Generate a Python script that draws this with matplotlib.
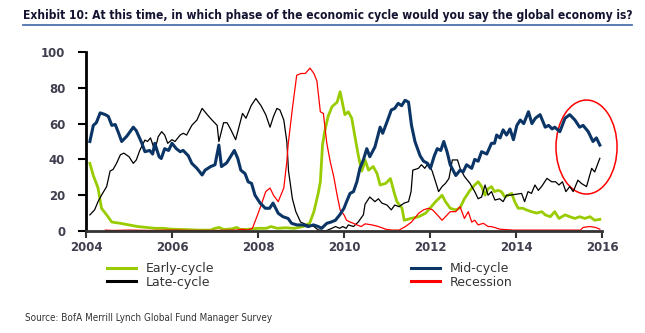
import matplotlib
matplotlib.use("Agg")
import matplotlib.pyplot as plt
from matplotlib.patches import Ellipse
from matplotlib.lines import Line2D

# survey shares (%)
mid_years = [2004.09, 2004.17, 2004.24, 2004.33, 2004.45, 2004.52, 2004.6, 2004.68, 2004.76, 2004.83,
             2004.95, 2005.1, 2005.17, 2005.3, 2005.37, 2005.48, 2005.55, 2005.6, 2005.7, 2005.75,
             2005.83, 2005.92, 2006.0, 2006.1, 2006.19, 2006.26, 2006.38, 2006.46, 2006.58, 2006.7,
             2006.77, 2006.9, 2007.0, 2007.09, 2007.15, 2007.27, 2007.4, 2007.45, 2007.53, 2007.6,
             2007.7, 2007.77, 2007.85, 2007.93, 2008.05, 2008.17, 2008.27, 2008.35, 2008.47, 2008.58,
             2008.7, 2008.78, 2008.9, 2009.05, 2009.17, 2009.29, 2009.4, 2009.48, 2009.6, 2009.7,
             2009.8, 2009.9, 2010.0, 2010.06, 2010.14, 2010.22, 2010.3, 2010.37, 2010.45, 2010.53,
             2010.6, 2010.72, 2010.84, 2010.9, 2011.0, 2011.1, 2011.18, 2011.26, 2011.34, 2011.42,
             2011.5, 2011.57, 2011.65, 2011.77, 2011.85, 2011.93, 2012.01, 2012.1, 2012.17, 2012.25,
             2012.32, 2012.4, 2012.47, 2012.6, 2012.7, 2012.77, 2012.85, 2012.97, 2013.04, 2013.12,
             2013.2, 2013.32, 2013.43, 2013.5, 2013.55, 2013.63, 2013.7, 2013.78, 2013.86, 2013.94,
             2014.02, 2014.1, 2014.18, 2014.29, 2014.37, 2014.45, 2014.56, 2014.68, 2014.76, 2014.84,
             2014.9, 2015.02, 2015.14, 2015.25, 2015.37, 2015.48, 2015.56, 2015.68, 2015.79, 2015.87,
             2015.95]
mid_vals = [50, 59, 60.5, 66, 65, 64, 59, 59.5, 54.6, 50,
            53, 58, 56, 49, 44.3, 45, 43, 49, 41.5, 40.5,
            46, 45, 49, 46, 44.3, 45, 42, 37.8, 35, 31.3,
            34, 36, 37, 48, 36, 38, 43, 45, 40.5, 34,
            32, 27.5, 26.6, 20, 15.6, 12.7, 12.7, 15.6, 9.9, 8,
            7, 4.3, 3.4, 3.4, 2.5, 3.4, 2.5, 1.5, 4.3, 5,
            6, 9, 12.7, 16.4, 21, 22, 27.5, 35, 39.7, 46,
            41.5, 47, 58, 54.6, 61, 67.6, 68.5, 71.3, 70, 73,
            72, 59, 50, 42, 39, 38, 35, 42, 46, 45,
            50, 44, 37, 31, 34, 33, 37, 35, 40, 39,
            44.3, 43, 49, 49, 53.6, 52, 56.5, 53.6, 57, 51,
            59, 62, 60, 66.6, 60, 63, 65, 58, 59, 57,
            58, 55.5, 63, 65, 62, 58, 59, 55.5, 50, 52,
            48]

early_years = [2004.09, 2004.17, 2004.28, 2004.36, 2004.48, 2004.6, 2004.8, 2005.0, 2005.2, 2005.4,
               2005.6, 2005.8, 2006.0, 2006.3, 2006.6, 2006.9, 2007.0, 2007.1, 2007.2, 2007.4,
               2007.5, 2007.6, 2007.8, 2008.0, 2008.2, 2008.3, 2008.45, 2008.65, 2008.85, 2009.05,
               2009.2, 2009.3, 2009.4, 2009.45, 2009.5, 2009.55, 2009.63, 2009.72, 2009.84, 2009.91,
               2010.02, 2010.1, 2010.18, 2010.26, 2010.33, 2010.41, 2010.45, 2010.49, 2010.57, 2010.68,
               2010.77, 2010.84, 2010.97, 2011.08, 2011.16, 2011.23, 2011.35, 2011.4, 2011.55, 2011.74,
               2011.9, 2012.0, 2012.13, 2012.2, 2012.28, 2012.36, 2012.47, 2012.6, 2012.7, 2012.8,
               2012.93, 2013.04, 2013.12, 2013.2, 2013.28, 2013.35, 2013.43, 2013.5, 2013.58, 2013.66,
               2013.74, 2013.82, 2013.9, 2013.97, 2014.05, 2014.16, 2014.24, 2014.36, 2014.48, 2014.6,
               2014.68, 2014.8, 2014.9, 2015.0, 2015.14, 2015.25, 2015.37, 2015.48, 2015.6, 2015.72,
               2015.83, 2015.95]
early_vals = [37.8, 31, 24, 12.7, 9, 5, 4.3, 3.4, 2.5, 2,
              1.5, 1.5, 1, 0.8, 0.5, 0.5, 1.5, 2, 0.8, 1.2,
              2, 0.8, 1, 1.5, 1.5, 2.5, 1.5, 1.8, 1.5, 2.5,
              4.3, 10.8, 21, 27.5, 48, 55.5, 64, 69.4, 72, 77.8,
              65, 66.6, 63, 52, 42.6, 33.5, 36, 39.7, 34, 36,
              32, 25.7, 26.6, 29.3, 22, 16.4, 12.7, 6, 7, 8,
              10, 12.7, 16.4, 18, 20, 16.4, 12.7, 11.8, 13, 18,
              22.7, 25.7, 27.5, 24.8, 20, 23.6, 24.8, 22, 22.7, 22,
              19, 20, 21, 16.4, 12.7, 12.7, 11.8, 10.8, 10, 10.8,
              9, 8, 10.8, 7, 9, 8, 7, 8, 7, 8,
              6, 6.5]

late_years = [2004.09, 2004.2, 2004.28, 2004.36, 2004.48, 2004.56, 2004.63, 2004.71, 2004.8, 2004.88,
              2005.0, 2005.1, 2005.17, 2005.25, 2005.37, 2005.43, 2005.5, 2005.6, 2005.68, 2005.76,
              2005.83, 2005.9, 2006.0, 2006.07, 2006.19, 2006.26, 2006.34, 2006.46, 2006.58, 2006.7,
              2006.82, 2006.93, 2007.05, 2007.09, 2007.2, 2007.28, 2007.36, 2007.48, 2007.64, 2007.72,
              2007.84, 2007.95, 2008.07, 2008.18, 2008.28, 2008.36, 2008.44, 2008.51, 2008.6, 2008.67,
              2008.71, 2008.8, 2008.88, 2008.99, 2009.14, 2009.3, 2009.4, 2009.57, 2009.72, 2009.8,
              2009.9, 2009.97, 2010.05, 2010.1, 2010.22, 2010.33, 2010.45, 2010.49, 2010.6, 2010.72,
              2010.8, 2010.88, 2011.0, 2011.1, 2011.18, 2011.28, 2011.4, 2011.5, 2011.56, 2011.6,
              2011.73, 2011.8, 2011.88, 2011.96, 2012.05, 2012.13, 2012.2, 2012.28, 2012.36, 2012.44,
              2012.52, 2012.64, 2012.7, 2012.8, 2012.93, 2013.04, 2013.12, 2013.2, 2013.28, 2013.35,
              2013.43, 2013.51, 2013.62, 2013.7, 2013.78, 2013.86, 2014.0, 2014.13, 2014.2, 2014.28,
              2014.36, 2014.44, 2014.52, 2014.6, 2014.72, 2014.83, 2014.92, 2015.0, 2015.08, 2015.16,
              2015.25, 2015.33, 2015.44, 2015.52, 2015.64, 2015.76, 2015.83, 2015.95]
late_vals = [9, 11.8, 16.4, 20, 24.8, 33.5, 34.4, 37.8, 42.6, 43.5,
             41.5, 37.8, 39.7, 45, 50.8, 50, 52, 45, 52.7, 55.5,
             53.6, 49, 51, 50, 53.6, 54.6, 53.6, 59, 62, 68.5,
             65, 62, 59, 50, 60.5, 60.5, 57, 51, 65.7, 63,
             70, 74, 70, 65, 58, 64, 68.5, 67.6, 62, 50,
             33.5, 18, 10.8, 5, 3.4, 2.5, 0.6, 0, 1.5, 2.5,
             1.5, 2.5, 1.5, 3.4, 2.5, 5, 9, 15, 19, 16.4,
             18, 15.6, 14.5, 11.8, 14.5, 13.6, 15.6, 16.4, 22, 34,
             35, 37, 35, 38, 33.5, 27.5, 22, 24.8, 26.6, 29.3,
             39.7, 39.7, 35, 30.5, 26.6, 22, 18, 19, 25.7, 20,
             22, 17.3, 18, 16.4, 20, 20, 20.5, 21, 16.4, 22,
             21, 25.7, 22.7, 25, 29.4, 27.5, 27.5, 25.7, 27.5, 22,
             24.8, 22, 28.4, 26.6, 24.8, 35, 33, 40.6]

rec_years = [2004.45, 2004.6, 2005.0, 2005.5, 2006.0, 2006.5, 2007.0, 2007.5, 2007.64, 2007.75,
             2007.87, 2007.99, 2008.1, 2008.18, 2008.28, 2008.36, 2008.47, 2008.6, 2008.67, 2008.7,
             2008.8, 2008.9, 2009.0, 2009.1, 2009.21, 2009.3, 2009.37, 2009.45, 2009.52, 2009.6,
             2009.68, 2009.76, 2009.84, 2009.91, 2010.0, 2010.06, 2010.14, 2010.22, 2010.3, 2010.4,
             2010.49, 2010.65, 2010.8, 2010.97, 2011.12, 2011.28, 2011.43, 2011.57, 2011.74, 2011.85,
             2011.96, 2012.06, 2012.17, 2012.28, 2012.4, 2012.47, 2012.6, 2012.7, 2012.8, 2012.89,
             2012.97, 2013.04, 2013.12, 2013.24, 2013.35, 2013.42, 2013.5, 2013.62, 2013.94, 2014.5,
             2015.0, 2015.5, 2015.56, 2015.72, 2015.85, 2015.95]
rec_vals = [0.5, 0.3, 0.5, 0.3, 0.5, 0.3, 0.3, 0.5, 1, 0.5,
            1.5, 9, 16.4, 22, 24, 20, 16.4, 24, 38.7, 48,
            68.5, 87, 88, 88, 91, 88, 83.8, 66.6, 65.7, 49,
            38.7, 30.5, 20, 11.8, 9, 6, 5, 4.3, 3.4, 2.5,
            4, 3.4, 2.5, 1, 0.5, 0.5, 2.5, 5, 10, 11.8,
            12.7, 11.8, 9, 6, 9, 10.8, 10.8, 13.6, 7, 10.8,
            5, 6, 3.4, 4.3, 2.5, 2.5, 2, 1, 0.5, 0.5,
            0.5, 0.5, 2, 2.5, 2, 1]

x_ticks = [2004, 2006, 2008, 2010, 2012, 2014, 2016]
y_ticks = [0, 20, 40, 60, 80, 100]

W, H = 645, 333
fig = plt.figure(figsize=(W / 100, H / 100), dpi=100)
ax = fig.add_axes([86 / W, 1 - 231 / H, (602 - 86) / W, (231 - 52) / H])

h_early, = ax.plot(early_years, early_vals, color='#99cc00', lw=2.0, label='Early-cycle')
h_late, = ax.plot(late_years, late_vals, color='black', lw=0.9, label='Late-cycle')
h_rec, = ax.plot(rec_years, rec_vals, color='#ff0000', lw=0.9, label='Recession')
h_mid, = ax.plot(mid_years, mid_vals, color='#0b3566', lw=2.2, label='Mid-cycle')

# highlight of the latest readings
ax.add_patch(Ellipse((2015.64, 46.9), 1.42, 52.5, fill=False, edgecolor='#ff0000',
                     lw=1.1, clip_on=False))

ax.set_xlim(2004, 2016)
ax.set_ylim(0, 100)
ax.set_xticks(x_ticks)
ax.set_yticks(y_ticks)
for s in ['top', 'right']:
    ax.spines[s].set_visible(False)
ax.spines['left'].set_linewidth(2)
ax.spines['bottom'].set_linewidth(2)
ax.spines['bottom'].set_color('#333333')
ax.tick_params(axis='y', direction='out', length=6, width=1.5, pad=9,
               labelsize=8.5, labelcolor='#3f3f4f')
ax.tick_params(axis='x', direction='out', length=5, width=1.5, pad=2,
               labelsize=8.5, labelcolor='#3f3f4f', color='#333333')
for lab in ax.get_xticklabels() + ax.get_yticklabels():
    lab.set_fontweight('bold')

leg_kw = dict(frameon=False, fontsize=9, handlelength=2.3, handletextpad=0.8,
              labelspacing=0.05, borderpad=0, borderaxespad=0, loc='upper left',
              bbox_transform=fig.transFigure)
leg1 = ax.legend([h_early, h_late], ['Early-cycle', 'Late-cycle'],
                 bbox_to_anchor=(107 / W, 1 - 262 / H), **leg_kw)
ax.add_artist(leg1)
leg2 = ax.legend([h_mid, h_rec], ['Mid-cycle', 'Recession'],
                 bbox_to_anchor=(411 / W, 1 - 262 / H), **leg_kw)
for lg in (leg1, leg2):
    for t in lg.get_texts():
        t.set_color('#333333')
    for ln in lg.get_lines():
        ln.set_linewidth(2.2)

title = fig.text(23 / W, 1 - 15 / H,
                 'Exhibit 10: At this time, in which phase of the economic cycle would you say the global economy is?',
                 family='DejaVu Sans', fontstretch='condensed', fontsize=11,
                 fontweight='bold', color='#141432', va='center')
fig.add_artist(Line2D([23 / W, 632 / W], [1 - 25 / H, 1 - 25 / H], color='#4f73ae', lw=1.3))
source = fig.text(25 / W, 1 - 318 / H, 'Source: BofA Merrill Lynch Global Fund Manager Survey',
                  family='DejaVu Sans', fontstretch='condensed', fontsize=7.5,
                  color='#333333', va='center')

# shrink the two condensed texts to the widths they take in the original
fig.canvas.draw()
rend = fig.canvas.get_renderer()
for txt, target in ((title, 607), (source, 245)):
    w = txt.get_window_extent(rend).width
    if w > target:
        txt.set_fontsize(txt.get_fontsize() * target / w)

fig.savefig('out.png', dpi=100)
